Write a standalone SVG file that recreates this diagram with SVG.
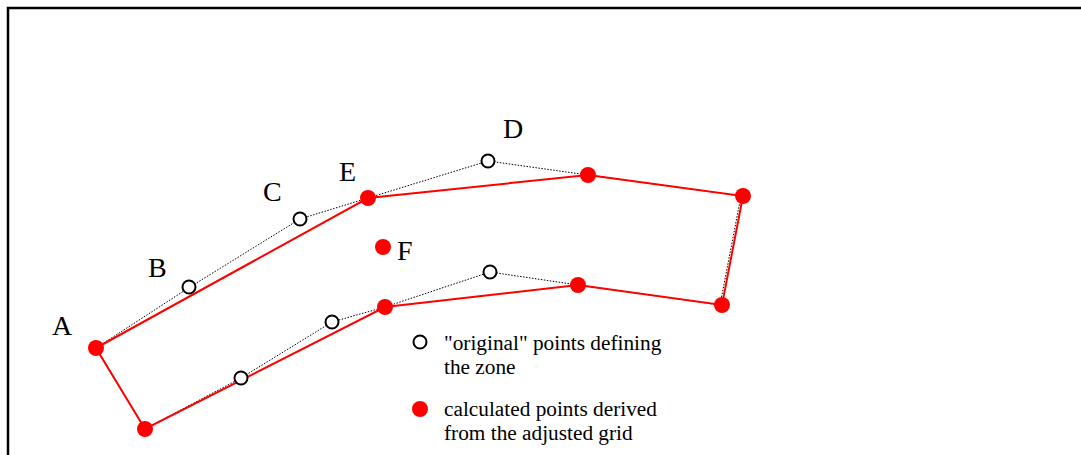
<svg xmlns="http://www.w3.org/2000/svg" width="1081" height="455" viewBox="0 0 1081 455">
<style>
.lbl{font-family:"Liberation Serif","Times New Roman",serif;font-size:28px;fill:#000}
.leg{font-family:"Liberation Serif","Times New Roman",serif;font-size:21.3px;fill:#000}
.orig{fill:#fff;stroke:#000;stroke-width:2}
.calc{fill:#f00;stroke:none}
</style>
<rect x="0" y="0" width="1081" height="455" fill="#fff"/>
<path d="M8,456 V8 H1083" fill="none" stroke="#000" stroke-width="2.5"/>
<g id="connectors">
<polyline points="96,348 190,287 300,219 368,198 488,161 588,175 741,196 720,305 578,285 490,272 385,307 332,322 241,378 145,429 96,348" fill="none" stroke="#000" stroke-width="1" stroke-dasharray="1.5,1.5"/>
<polygon points="96,348 368,198 588,175 743,196 722,305 578,285 385,307 145,429" fill="none" stroke="#f00" stroke-width="2"/>
</g>
<g id="orig-points">
<circle id="pB" class="orig" cx="189" cy="287" r="6.5"/>
<circle id="pC" class="orig" cx="300" cy="219" r="6.5"/>
<circle id="pD" class="orig" cx="488" cy="161" r="6.5"/>
<circle id="pD2" class="orig" cx="490" cy="272" r="6.5"/>
<circle id="pL1" class="orig" cx="332" cy="322" r="6.5"/>
<circle id="pL2" class="orig" cx="241" cy="378" r="6.5"/>
</g>
<g id="calc-points">
<circle id="pA" class="calc" cx="96" cy="348" r="8"/>
<circle id="pBL" class="calc" cx="145" cy="429" r="8"/>
<circle id="pE" class="calc" cx="368" cy="198" r="8"/>
<circle id="pT" class="calc" cx="588" cy="175" r="8"/>
<circle id="pTR" class="calc" cx="743" cy="196" r="8"/>
<circle id="pBR" class="calc" cx="722" cy="305" r="8"/>
<circle id="pM" class="calc" cx="578" cy="285" r="8"/>
<circle id="pL" class="calc" cx="385" cy="307" r="8"/>
<circle id="pF" class="calc" cx="383" cy="247" r="8"/>
</g>
<g id="labels">
<text class="lbl" x="52" y="335">A</text>
<text class="lbl" x="148" y="277">B</text>
<text class="lbl" x="263" y="201">C</text>
<text class="lbl" x="339" y="181">E</text>
<text class="lbl" x="503" y="138">D</text>
<text class="lbl" x="397" y="260">F</text>
</g>
<g id="legend">
<circle class="orig" cx="420" cy="342" r="6.5"/>
<text class="leg" x="444" y="350">"original" points defining</text>
<text class="leg" x="444" y="374">the zone</text>
<circle class="calc" cx="420" cy="409" r="8"/>
<text class="leg" x="444" y="416">calculated points derived</text>
<text class="leg" x="444" y="440">from the adjusted grid</text>
</g>
</svg>
